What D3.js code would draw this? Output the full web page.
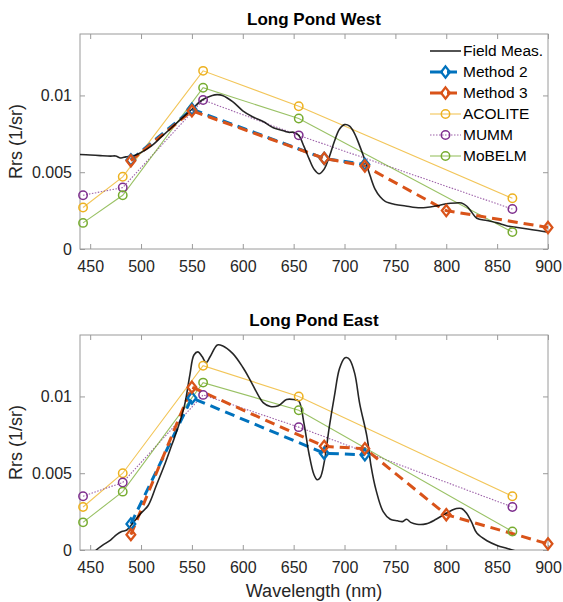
<!DOCTYPE html>
<html lang="en">
<head>
<meta charset="utf-8"/>
<style>
body { margin: 0; background: #fff; }
text { font-family: "Liberation Sans", Arial, sans-serif; fill: #262626; }
.title { font-weight: bold; font-size: 17px; text-anchor: middle; fill: #000; }
.tick text { font-size: 16px; }
.lab { font-size: 18px; text-anchor: middle; }
.leg { font-size: 15.5px; fill: #000; }
</style>
</head>
<body>
<svg width="563" height="602"></svg>
<script src="https://cdnjs.cloudflare.com/ajax/libs/d3/7.8.5/d3.min.js"></script>
<script>

// ---- data ----
var xTicks = [450, 500, 550, 600, 650, 700, 750, 800, 850, 900];
var yTicks = [0, 0.005, 0.01];

var oliWl = [443, 482, 561, 655, 865];      // ACOLITE / MUMM / MoBELM bands
var m2Wl = [490, 550, 680, 720];
var m3Wl = [490, 550, 680, 720, 800, 900];

// Long Pond West
var westFieldWl = [440,450,460,470,475,480,485,490,495,500,510,520,530,540,550,560,570,575,580,590,600,610,620,630,640,645,650,655,660,665,670,675,680,685,690,695,700,705,710,715,720,725,730,735,740,750,760,770,780,790,800,810,815,820,825,830,840,850,860,870,880,890,900];
var westField   = [.00615,.00612,.00608,.00605,.00606,.00593,.00600,.00605,.00612,.00628,.0067,.0073,.0079,.0085,.0091,.0097,.0100,.01005,.0100,.0096,.0090,.0086,.0083,.0079,.0077,.0076,.0076,.0074,.0067,.0059,.0052,.0049,.0052,.0060,.0070,.0078,.0081,.0080,.0075,.0067,.0058,.0048,.0039,.0034,.0031,.0029,.0028,.0027,.0027,.0028,.00295,.0030,.0030,.0028,.0024,.0020,.00185,.0017,.0015,.0014,.0013,.0012,.0011];
var westM2      = [0.0058, 0.0091, 0.0059, 0.0055];
var westM3      = [0.00575, 0.0090, 0.0059, 0.0054, 0.0025, 0.0014];
var westAcolite = [0.0027, 0.0047, 0.0116, 0.0093, 0.0033];
var westMumm    = [0.0035, 0.0040, 0.0097, 0.0074, 0.0026];
var westMobelm  = [0.0017, 0.0035, 0.0105, 0.0085, 0.0011];

// Long Pond East
var eastFieldWl = [452,456,462,470,476,481,486,490,495,500,507,515,524,530,537,543,548,552,556,560,564,568,575,580,590,600,607,615,620,627,635,643,650,655,660,665,670,673,676,680,685,690,695,700,702,705,710,715,722,726,731,738,745,752,757,761,765,771,780,790,800,810,815,820,825,830,840,850,860,870];
var eastField   = [-.0004,0,.0003,.00065,.0010,.0012,.0013,.0016,.0020,.0024,.0029,.0042,.0057,.0068,.0081,.0095,.0114,.0127,.0129,.0126,.0122,.0126,.01335,.0133,.0128,.0119,.0111,.0101,.0096,.00935,.0094,.0098,.0098,.0097,.0083,.0063,.0049,.00458,.0047,.0057,.0080,.0100,.0118,.0125,.01253,.0124,.0115,.0095,.0074,.0055,.0039,.0025,.0020,.0019,.00185,.0020,.0018,.00168,.0017,.0020,.0024,.0027,.0027,.0024,.0018,.0011,.0006,.0003,.0001,-.0001];
var eastM2      = [0.0017, 0.0099, 0.0063, 0.0062];
var eastM3      = [0.0010, 0.0106, 0.00675, 0.0066, 0.0023, 0.0004];
var eastAcolite = [0.0028, 0.0050, 0.0120, 0.0100, 0.0035];
var eastMumm    = [0.0035, 0.0044, 0.0101, 0.0080, 0.0028];
var eastMobelm  = [0.0018, 0.0038, 0.0109, 0.0091, 0.0012];

var names = ["Field Meas.", "Method 2", "Method 3", "ACOLITE", "MUMM", "MoBELM"];

// ---- styles ----
var sty = {
  "Field Meas.": {c: "#000000", w: 1.6, dash: null, mk: null, op: 0.85},
  "Method 2":    {c: "#0072BD", w: 3, dash: "10,6", mk: "d", op: 1},
  "Method 3":    {c: "#D95319", w: 3, dash: "10,6", mk: "d", op: 1},
  "ACOLITE":     {c: "#EDB120", w: 1.1, dash: null, mk: "o", op: 0.75},
  "MUMM":        {c: "#7E2F8E", w: 1.1, dash: "1.5,1.5", mk: "o", op: 0.75},
  "MoBELM":      {c: "#77AC30", w: 1.1, dash: null, mk: "o", op: 0.75}
};

var svg = d3.select("svg");
var left = 80, right = 548;
var x = d3.scaleLinear().domain([440, 900]).range([left, right]);

function zip(a, b) { return a.map(function(v, i) { return [v, b[i]]; }); }

function marker(g, type, cx, cy, color) {
  if (type == "o") {
    g.append("circle").attr("cx", cx).attr("cy", cy).attr("r", 4.2)
      .attr("fill", "none").attr("stroke", color).attr("stroke-width", 1.5);
  } else if (type == "d") {
    g.append("path").attr("d", d3.symbol().type(d3.symbolDiamond).size(50)())
      .attr("transform", "translate(" + cx + "," + cy + ") scale(1.15,0.85)")
      .attr("fill", "none").attr("stroke", color).attr("stroke-width", 2.2);
  }
}

function drawPanel(id, top, bottom, title, series) {
  var y = d3.scaleLinear().domain([0, 0.014]).range([bottom, top]);
  var g = svg.append("g");

  g.append("clipPath").attr("id", "clip" + id).append("rect")
    .attr("x", left).attr("y", top).attr("width", right - left).attr("height", bottom - top);

  g.append("rect").attr("x", left).attr("y", top).attr("width", right - left).attr("height", bottom - top)
    .attr("fill", "#fff").attr("stroke", "#9a9a9a").attr("stroke-width", 1);

  // axes, MATLAB style ticks inside on all four sides
  g.append("g").attr("transform", "translate(0," + bottom + ")")
    .call(d3.axisBottom(x).tickValues(xTicks).tickSize(-5).tickPadding(12).tickFormat(d3.format("d")));
  g.append("g").attr("transform", "translate(0," + top + ")")
    .call(d3.axisTop(x).tickValues(xTicks).tickSize(-5).tickFormat(""));
  g.append("g").attr("transform", "translate(" + left + ",0)")
    .call(d3.axisLeft(y).tickValues(yTicks).tickSize(-5).tickPadding(8).tickFormat(function(d) { return d == 0 ? "0" : d3.format("")(d); }));
  g.append("g").attr("transform", "translate(" + right + ",0)")
    .call(d3.axisRight(y).tickValues(yTicks).tickSize(-5).tickFormat(""));
  g.selectAll(".domain").remove();
  g.selectAll(".tick line").attr("stroke", "#9a9a9a");

  g.append("text").attr("class", "title").attr("x", (left + right) / 2).attr("y", top - 9).text(title);
  g.append("text").attr("class", "lab")
    .attr("transform", "translate(22," + (top + bottom) / 2 + ") rotate(-90)").text("Rrs (1/sr)");

  var pg = g.append("g").attr("clip-path", "url(#clip" + id + ")");
  var line = d3.line().x(function(d) { return x(d[0]); }).y(function(d) { return y(d[1]); });
  var smooth = d3.line().curve(d3.curveCatmullRom).x(function(d) { return x(d[0]); }).y(function(d) { return y(d[1]); });

  // draw thin satellite products first, then methods, field on top
  ["ACOLITE", "MUMM", "MoBELM", "Method 2", "Method 3", "Field Meas."].forEach(function(n) {
    var s = series[n], st = sty[n];
    var pts = zip(s[0], s[1]);
    pg.append("path").attr("d", (n == "Field Meas." ? smooth : line)(pts))
      .attr("fill", "none").attr("stroke", st.c).attr("stroke-width", st.w)
      .attr("stroke-dasharray", st.dash).attr("stroke-opacity", st.op);
    if (st.mk) pts.forEach(function(p) { marker(g, st.mk, x(p[0]), y(p[1]), st.c); });
  });
  return g;
}

drawPanel("w", 34, 249, "Long Pond West", {
  "Field Meas.": [westFieldWl, westField],
  "Method 2": [m2Wl, westM2],
  "Method 3": [m3Wl, westM3],
  "ACOLITE": [oliWl, westAcolite],
  "MUMM": [oliWl, westMumm],
  "MoBELM": [oliWl, westMobelm]
});

drawPanel("e", 335, 550, "Long Pond East", {
  "Field Meas.": [eastFieldWl, eastField],
  "Method 2": [m2Wl, eastM2],
  "Method 3": [m3Wl, eastM3],
  "ACOLITE": [oliWl, eastAcolite],
  "MUMM": [oliWl, eastMumm],
  "MoBELM": [oliWl, eastMobelm]
});

svg.append("text").attr("class", "lab").attr("x", (left + right) / 2).attr("y", 597).text("Wavelength (nm)");

// legend
var leg = svg.append("g");
names.forEach(function(n, i) {
  var st = sty[n], yy = 51 + i * 21;
  leg.append("line").attr("x1", 430).attr("x2", 461).attr("y1", yy).attr("y2", yy)
    .attr("stroke", st.c).attr("stroke-width", st.w).attr("stroke-opacity", st.op)
    .attr("stroke-dasharray", st.dash ? (n == "MUMM" ? st.dash : "13,4,10") : null);
  if (st.mk) marker(leg, st.mk, 445.5, yy, st.c);
  leg.append("text").attr("class", "leg").attr("x", 463).attr("y", yy + 5).text(n);
});

</script>
</body>
</html>
